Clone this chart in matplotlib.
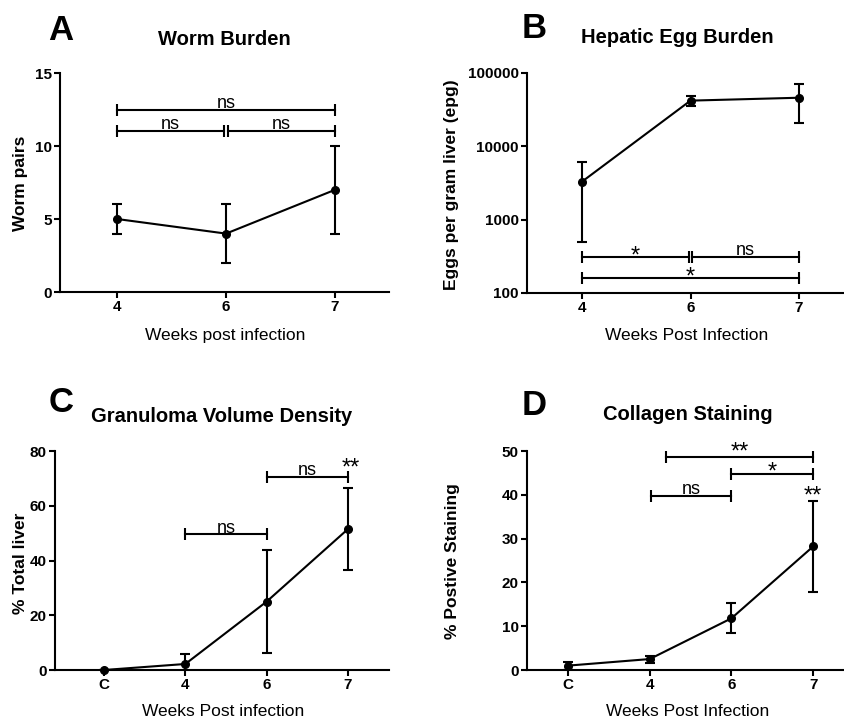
import matplotlib
matplotlib.use("Agg")
import matplotlib.pyplot as plt
import numpy as np

plt.rcParams['font.family'] = ['Liberation Sans', 'DejaVu Sans']

# ---------------- data ----------------
a_weeks = ["4", "6", "7"]
a_mean = [5, 4, 7]
a_err = [1, 2, 3]

b_weeks = ["4", "6", "7"]
b_mean = [3300, 42000, 46000]
b_err = [2800, 6500, 25000]
b_yticks = [100, 1000, 10000, 100000]
b_yticklabels = ["100", "1000", "10000", "100000"]

c_groups = ["C", "4", "6", "7"]
c_mean = [0, 2.2, 25.0, 51.5]
c_err = [0, 3.5, 18.8, 15.0]

d_groups = ["C", "4", "6", "7"]
d_mean = [1.0, 2.5, 11.8, 28.2]
d_err = [0.9, 0.8, 3.4, 10.3]

# significance annotations: (x_start, x_end, y, label)
a_sig = [(0, 0.985, 11.05, "ns"), (1.015, 2, 11.05, "ns"), (0, 2, 12.47, "ns")]
b_sig = [(0, 0.985, 310, "*"), (1.015, 2, 310, "ns"), (0, 2, 158, "*")]
c_sig = [(1, 2, 49.6, "ns"), (2, 3, 70.6, "ns")]
d_sig = [(1.2, 3, 48.55, "**"), (2, 3, 44.75, "*"), (1.02, 2, 39.7, "ns")]

# ---------------- layout ----------------
W, H = 845, 720
fig = plt.figure(figsize=(W / 100, H / 100), dpi=100)


def px_axes(x0, x1, ytop, ybot):
    return fig.add_axes([x0 / W, 1 - ybot / H, (x1 - x0) / W, (ybot - ytop) / H])


def ftext(x, y, s, **kw):
    fig.text(x / W, 1 - y / H, s, **kw)


LW = 1.5
NS_SIZE = 13
STAR_SIZE = 17


def style(ax):
    for s in ("top", "right"):
        ax.spines[s].set_visible(False)
    for s in ("left", "bottom"):
        ax.spines[s].set_linewidth(LW)
    ax.tick_params(axis="both", direction="out", length=4, width=LW,
                   labelsize=11, pad=2)
    for lab in ax.get_xticklabels() + ax.get_yticklabels():
        lab.set_fontweight("bold")


def plot_series(ax, means, errs):
    x = np.arange(len(means))
    ax.errorbar(x, means, yerr=errs, fmt="none", ecolor="black",
                elinewidth=LW, capsize=3.6, capthick=LW, zorder=3)
    ax.plot(x, means, color="black", lw=LW, marker="o", ms=5.5,
            clip_on=False, zorder=4)


def label_size(lab):
    return STAR_SIZE if "*" in lab else NS_SIZE


def sig(ax, items, text_off):
    for (x1, x2, y, lab), off in zip(items, text_off):
        ax.plot([x1, x2], [y, y], color="black", lw=LW, marker="|",
                ms=8.5, mew=LW, clip_on=False, zorder=3)
        ax.annotate(lab, xy=((x1 + x2) / 2, y), xytext=(0, off),
                    textcoords="offset points", ha="center",
                    va="baseline", fontsize=label_size(lab),
                    annotation_clip=False)


# ---------- A ----------
axA = px_axes(60, 389, 73, 292)
plot_series(axA, a_mean, a_err)
axA.set_xlim(-0.523, 2.495)
axA.set_ylim(0, 15)
axA.set_yticks([0, 5, 10, 15])
axA.set_xticks(range(len(a_weeks)))
axA.set_xticklabels(a_weeks)
style(axA)
sig(axA, a_sig, [1.5, 1.5, 1.5])

# ---------- B ----------
axB = px_axes(527, 845, 73, 293)
plot_series(axB, b_mean, b_err)
axB.set_yscale("log")
axB.set_xlim(-0.507, 2.424)
axB.set_ylim(100, 100000)
axB.set_yticks(b_yticks)
axB.set_yticklabels(b_yticklabels)
axB.minorticks_off()
axB.set_xticks(range(len(b_weeks)))
axB.set_xticklabels(b_weeks)
style(axB)
sig(axB, b_sig, [-3.8, 1.5, -4.0])

# ---------- C ----------
axC = px_axes(55, 389, 451, 670)
plot_series(axC, c_mean, c_err)
axC.set_xlim(-0.603, 3.504)
axC.set_ylim(0, 80)
axC.set_yticks([0, 20, 40, 60, 80])
axC.set_xticks(range(len(c_groups)))
axC.set_xticklabels(c_groups)
style(axC)
sig(axC, c_sig, [1.0, 1.5])
axC.annotate("**", xy=(3.04, c_sig[1][2]), xytext=(0, 1.5),
             textcoords="offset points", ha="center", va="baseline",
             fontsize=STAR_SIZE, annotation_clip=False)

# ---------- D ----------
axD = px_axes(527, 845, 451, 670)
plot_series(axD, d_mean, d_err)
axD.set_xlim(-0.502, 3.39)
axD.set_ylim(0, 50)
axD.set_yticks([0, 10, 20, 30, 40, 50])
axD.set_xticks(range(len(d_groups)))
axD.set_xticklabels(d_groups)
style(axD)
sig(axD, d_sig, [-1.0, -3.3, 1.5])
axD.annotate("**", xy=(3, d_mean[3] + d_err[3]), xytext=(0, -0.5),
             textcoords="offset points", ha="center", va="baseline",
             fontsize=STAR_SIZE, annotation_clip=False)

# ---------- texts ----------
for (x, y, s) in [(61, 40, "A"), (534, 38.5, "B"), (61, 412, "C"), (534, 415, "D")]:
    ftext(x, y, s, fontsize=25, fontweight="bold", ha="center", va="baseline")

for (x, y, s) in [(224, 45, "Worm Burden"), (677, 43, "Hepatic Egg Burden"),
                  (222, 421.5, "Granuloma Volume Density"),
                  (688, 420.5, "Collagen Staining")]:
    ftext(x, y, s, fontsize=14.5, fontweight="bold", ha="center", va="baseline")

for (x, y, s) in [(225, 340, "Weeks post infection"),
                  (687, 340, "Weeks Post Infection"),
                  (223, 716, "Weeks Post infection"),
                  (688, 716, "Weeks Post Infection")]:
    ftext(x, y, s, fontsize=12.5, ha="center", va="baseline")

for (x, y, s) in [(21, 183, "Worm pairs"), (452, 185, "Eggs per gram liver (epg)"),
                  (21, 563, "% Total liver"), (453, 561, "% Postive Staining")]:
    ftext(x, y, s, fontsize=12.5, fontweight="bold", ha="center", va="center",
          rotation=90)

fig.savefig("out.png", dpi=100)
